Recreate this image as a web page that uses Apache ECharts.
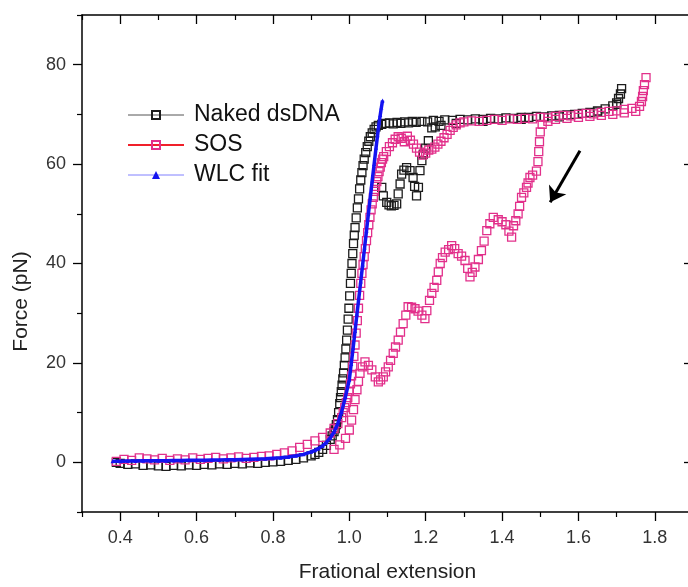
<!DOCTYPE html>
<html>
<head>
<meta charset="utf-8">
<script src="https://cdn.jsdelivr.net/npm/echarts@6/dist/echarts.min.js"></script>
<style>
  html, body { margin: 0; padding: 0; background: #fff; }
  #chart { width: 688px; height: 587px; }
</style>
</head>
<body>
<div id="chart"></div>
<script>
// Axis ticks
const xMajorTicks = [0.4, 0.6, 0.8, 1.0, 1.2, 1.4, 1.6, 1.8];
const xMinorTicks = [0.3, 0.5, 0.7, 0.9, 1.1, 1.3, 1.5, 1.7, 1.9];
const yMajorTicks = [0, 20, 40, 60, 80];
const yMinorTicks = [-10, 10, 30, 50, 70, 90];

// Naked dsDNA: stretching then relaxing, [extension, force pN]
const nakedStretch = [
  [0.39, 0.0], [0.40, -0.2], [0.42, -0.4], [0.44, -0.3], [0.46, -0.6], [0.48, -0.5],
  [0.50, -0.7], [0.52, -0.8], [0.54, -0.6], [0.56, -0.7], [0.58, -0.5], [0.60, -0.6],
  [0.62, -0.4], [0.64, -0.5], [0.66, -0.3], [0.68, -0.4], [0.70, -0.2], [0.72, -0.3],
  [0.74, -0.1], [0.76, -0.2], [0.78, 0.0], [0.80, 0.1], [0.82, 0.2], [0.84, 0.4],
  [0.86, 0.6], [0.88, 0.9], [0.90, 1.3], [0.91, 1.6], [0.92, 2.0], [0.93, 2.6],
  [0.94, 3.4], [0.95, 4.6], [0.955, 5.3], [0.96, 6.2], [0.963, 6.8], [0.966, 7.6],
  [0.969, 8.6], [0.972, 10.0], [0.975, 11.8], [0.977, 13.0], [0.979, 14.2], [0.981, 15.5],
  [0.983, 16.8], [0.985, 18.0], [0.987, 19.5], [0.989, 21.0], [0.991, 22.8], [0.993, 24.6],
  [0.995, 26.6], [0.997, 28.8], [0.999, 31.0], [1.001, 33.5], [1.003, 36.0], [1.005, 38.0],
  [1.007, 40.0], [1.009, 42.0], [1.011, 44.0], [1.013, 45.7], [1.015, 47.2], [1.018, 49.2],
  [1.021, 51.2], [1.024, 53.0], [1.027, 55.0], [1.03, 56.8], [1.033, 58.3], [1.036, 59.7],
  [1.039, 61.0], [1.043, 62.3], [1.047, 63.5], [1.051, 64.6], [1.055, 65.5], [1.06, 66.3],
  [1.065, 67.0], [1.07, 67.5], [1.076, 67.8],
  [1.085, 68.0], [1.095, 68.2], [1.105, 68.3], [1.115, 68.1], [1.125, 68.4], [1.135, 68.2],
  [1.145, 68.5], [1.155, 68.3], [1.165, 68.6], [1.175, 68.4], [1.19, 68.6], [1.205, 68.5],
  [1.22, 68.8], [1.235, 68.6], [1.25, 68.9], [1.27, 68.8], [1.29, 69.0], [1.31, 68.9],
  [1.33, 69.1], [1.35, 69.0], [1.37, 69.2], [1.39, 69.1], [1.41, 69.3], [1.43, 69.2],
  [1.45, 69.4], [1.47, 69.4], [1.49, 69.6], [1.51, 69.5], [1.53, 69.7], [1.55, 69.8],
  [1.57, 69.9], [1.59, 70.0], [1.61, 70.2], [1.63, 70.4], [1.65, 70.7], [1.67, 71.1],
  [1.69, 71.7], [1.70, 72.3], [1.705, 73.2], [1.71, 74.1], [1.713, 75.2]
];
const nakedRelax = [
  [1.70, 72.0], [1.65, 70.5], [1.55, 69.5], [1.45, 69.0], [1.35, 68.6], [1.28, 68.2],
  [1.24, 67.8], [1.225, 67.5], [1.216, 67.3], [1.207, 64.7], [1.20, 63.2], [1.194, 62.0],
  [1.19, 60.7], [1.185, 58.7], [1.181, 55.3], [1.176, 53.6], [1.171, 55.5], [1.167, 57.3],
  [1.159, 58.7], [1.15, 59.3], [1.143, 58.8], [1.137, 58.0], [1.133, 56.0], [1.128, 54.0],
  [1.124, 52.0], [1.117, 51.7], [1.11, 51.6], [1.104, 51.8], [1.098, 52.3], [1.089, 53.6],
  [1.085, 55.3]
];

// SOS-bound DNA: stretching then relaxing
const sosStretch = [
  [0.39, 0.2], [0.41, 0.6], [0.43, 0.4], [0.45, 0.9], [0.47, 0.7], [0.49, 0.5],
  [0.51, 0.8], [0.53, 0.4], [0.55, 0.7], [0.57, 0.5], [0.59, 0.9], [0.61, 0.6],
  [0.63, 0.8], [0.65, 1.0], [0.67, 0.7], [0.69, 0.9], [0.71, 1.1], [0.73, 0.8],
  [0.75, 1.0], [0.77, 1.2], [0.79, 1.3], [0.81, 1.6], [0.83, 1.9], [0.85, 2.3],
  [0.87, 3.0], [0.89, 3.6], [0.91, 4.3], [0.93, 5.0], [0.95, 5.9], [0.96, 6.8],
  [0.97, 7.8], [0.98, 9.0], [0.984, 10.0], [0.988, 11.0], [0.992, 12.0], [0.996, 13.0],
  [1.0, 14.3], [1.003, 15.8], [1.006, 17.4], [1.009, 19.3], [1.012, 21.3], [1.015, 23.6],
  [1.018, 26.0], [1.021, 28.5], [1.024, 31.0], [1.027, 33.6], [1.03, 36.0], [1.033, 38.0],
  [1.036, 39.8], [1.039, 41.4], [1.042, 43.0], [1.045, 44.6], [1.048, 46.2], [1.051, 47.8],
  [1.054, 49.3], [1.057, 50.8], [1.06, 52.0], [1.063, 53.3], [1.066, 54.5], [1.069, 55.5],
  [1.072, 56.5], [1.075, 57.5], [1.078, 58.5], [1.081, 59.4], [1.084, 60.3], [1.087, 61.0],
  [1.09, 61.5], [1.097, 62.5], [1.105, 63.5], [1.113, 64.3], [1.12, 65.0], [1.128, 65.5],
  [1.136, 65.2], [1.144, 64.5], [1.152, 65.6], [1.16, 64.8], [1.168, 64.0], [1.176, 63.2],
  [1.184, 62.4], [1.192, 61.8], [1.20, 62.2], [1.208, 62.8], [1.216, 63.0], [1.224, 63.4],
  [1.232, 64.0], [1.24, 64.6], [1.248, 65.3], [1.256, 66.0], [1.264, 66.8], [1.272, 67.4],
  [1.28, 67.9], [1.29, 68.3], [1.30, 68.5], [1.32, 68.7], [1.34, 68.6], [1.36, 68.8],
  [1.38, 69.0], [1.40, 68.8], [1.42, 69.1], [1.44, 69.0], [1.46, 69.2], [1.48, 69.1],
  [1.50, 69.4], [1.52, 69.3], [1.54, 69.6], [1.56, 69.8], [1.58, 69.7], [1.60, 70.0],
  [1.62, 70.2], [1.64, 70.1], [1.66, 70.4], [1.68, 70.6], [1.70, 70.7], [1.72, 71.0],
  [1.74, 71.2], [1.76, 71.6], [1.765, 72.6], [1.768, 73.6], [1.77, 74.8], [1.773, 76.0],
  [1.777, 77.4]
];
const sosRelax = [
  [1.75, 70.6], [1.72, 70.3], [1.69, 70.0], [1.66, 69.8], [1.63, 69.6], [1.60, 69.4],
  [1.57, 69.2], [1.54, 69.0], [1.52, 68.6], [1.505, 68.0], [1.50, 66.5], [1.498, 64.5],
  [1.496, 62.5], [1.494, 60.5], [1.49, 58.6], [1.48, 57.8], [1.473, 57.3], [1.468, 56.2],
  [1.464, 55.3], [1.457, 54.2], [1.451, 53.3], [1.446, 51.5], [1.442, 50.0], [1.436, 48.6],
  [1.43, 47.6], [1.425, 45.3], [1.418, 46.5], [1.41, 47.8], [1.40, 48.4], [1.39, 48.8],
  [1.377, 49.3], [1.368, 48.0], [1.36, 46.6], [1.353, 44.5], [1.346, 42.6], [1.338, 40.8],
  [1.329, 39.3], [1.322, 38.2], [1.316, 37.3], [1.31, 39.0], [1.303, 40.6], [1.294, 41.5],
  [1.285, 42.0], [1.276, 43.0], [1.268, 43.6], [1.26, 42.8], [1.251, 42.3], [1.244, 41.2],
  [1.238, 40.0], [1.233, 38.3], [1.229, 36.6], [1.222, 35.2], [1.216, 34.0], [1.21, 32.6],
  [1.203, 30.5], [1.198, 28.9], [1.19, 29.6], [1.18, 30.4], [1.172, 30.9], [1.163, 31.2],
  [1.154, 31.3], [1.148, 29.6], [1.141, 27.9], [1.134, 26.2], [1.128, 24.6], [1.121, 23.2],
  [1.115, 21.9], [1.108, 20.5], [1.102, 19.2], [1.095, 18.2], [1.089, 17.2], [1.082, 16.6],
  [1.076, 16.2], [1.068, 17.2], [1.059, 18.6], [1.05, 19.5], [1.041, 20.2], [1.034, 19.2],
  [1.028, 17.9], [1.024, 16.3], [1.02, 14.6], [1.015, 12.6], [1.011, 10.6], [1.006, 8.5],
  [1.0, 6.5], [0.99, 4.8], [0.975, 3.5], [0.96, 2.6]
];

// Worm-like-chain fit
const wlcFit = [
  [0.38, 0.2], [0.40, 0.2], [0.42, 0.25], [0.44, 0.25], [0.46, 0.3], [0.48, 0.3],
  [0.50, 0.3], [0.52, 0.3], [0.54, 0.35], [0.56, 0.35], [0.58, 0.4], [0.60, 0.4],
  [0.62, 0.4], [0.64, 0.45], [0.66, 0.45], [0.68, 0.5], [0.70, 0.5], [0.72, 0.55],
  [0.74, 0.6], [0.76, 0.65], [0.78, 0.7], [0.80, 0.8], [0.82, 0.9], [0.84, 1.05],
  [0.86, 1.3], [0.88, 1.6], [0.90, 2.1], [0.91, 2.4], [0.92, 2.8], [0.93, 3.3],
  [0.94, 4.0], [0.95, 4.9], [0.96, 6.1], [0.97, 7.8], [0.98, 10.2], [0.99, 13.2],
  [1.0, 16.6], [1.005, 19.8], [1.01, 23.0], [1.015, 26.4], [1.02, 29.8], [1.025, 33.1],
  [1.03, 36.4], [1.035, 39.8], [1.04, 43.2], [1.045, 46.6], [1.05, 50.0], [1.055, 53.3],
  [1.06, 56.7], [1.065, 60.0], [1.07, 63.3], [1.074, 65.8], [1.078, 68.3], [1.081, 69.9],
  [1.084, 71.4], [1.087, 72.8]
];

// Direction of the relaxing trace: arrow from tail to head, in data units
const arrowTail = [1.604, 62.7];
const arrowHead = [1.526, 52.3];

const BLACK = '#1c1c1c';
const PINK = '#e2308b';
const BLUE = '#1414f0';

const axisColor = '#000';
const labelStyle = { fontFamily: 'Liberation Sans, Arial, sans-serif', fontSize: 18, color: '#333' };

function xAxisPair(position, inside) {
  const base = { type: 'value', min: 0.3, max: 1.9, interval: 0.1, splitLine: { show: false } };
  return [
    Object.assign({}, base, {
      position,
      axisLine: { show: true, onZero: false, lineStyle: { color: axisColor, width: 1.5 } },
      axisTick: { show: true, inside, length: 9, customValues: xMajorTicks, lineStyle: { color: axisColor, width: 1.3 } },
      axisLabel: position === 'bottom'
        ? Object.assign({ show: true, margin: 17, customValues: xMajorTicks, formatter: v => Number(v).toFixed(1) }, labelStyle)
        : { show: false }
    }),
    Object.assign({}, base, {
      position,
      axisLine: { show: false, onZero: false },
      axisTick: { show: true, inside, length: 5, customValues: xMinorTicks, lineStyle: { color: axisColor, width: 1.2 } },
      axisLabel: { show: false }
    })
  ];
}
function yAxisPair(position, inside) {
  const base = { type: 'value', min: -10, max: 90, interval: 10, splitLine: { show: false } };
  return [
    Object.assign({}, base, {
      position,
      axisLine: { show: true, onZero: false, lineStyle: { color: axisColor, width: 1.5 } },
      axisTick: { show: true, inside, length: 9, customValues: yMajorTicks, lineStyle: { color: axisColor, width: 1.3 } },
      axisLabel: position === 'left'
        ? Object.assign({ show: true, margin: 16, customValues: yMajorTicks }, labelStyle)
        : { show: false }
    }),
    Object.assign({}, base, {
      position,
      axisLine: { show: false, onZero: false },
      axisTick: { show: true, inside, length: 5, customValues: yMinorTicks, lineStyle: { color: axisColor, width: 1.2 } },
      axisLabel: { show: false }
    })
  ];
}

const xAxes = xAxisPair('bottom', false).concat(xAxisPair('top', true));
xAxes[0].name = 'Frational extension';
xAxes[0].nameLocation = 'middle';
xAxes[0].nameGap = 50;
xAxes[0].nameTextStyle = { fontFamily: 'Liberation Sans, Arial, sans-serif', fontSize: 21, color: '#222' };

const yAxes = yAxisPair('left', false).concat(yAxisPair('right', true));
yAxes[0].name = 'Force (pN)';
yAxes[0].nameLocation = 'middle';
yAxes[0].nameGap = 50;
yAxes[0].nameTextStyle = { fontFamily: 'Liberation Sans, Arial, sans-serif', fontSize: 21, color: '#222', padding: [0, 76, 0, 0] };

const chart = echarts.init(document.getElementById('chart'), null, { renderer: 'canvas' });
chart.setOption({
  animation: false,
  backgroundColor: '#fff',
  grid: { left: 82, top: 15, width: 611, height: 497, containLabel: false, outerBoundsMode: 'none' },
  xAxis: xAxes,
  yAxis: yAxes,
  legend: {
    orient: 'vertical',
    left: 127,
    top: 103,
    padding: 0,
    itemWidth: 56,
    itemHeight: 10,
    itemGap: 6,
    selectedMode: false,
    textStyle: { fontFamily: 'Liberation Sans, Arial, sans-serif', fontSize: 23, color: '#111', lineHeight: 24, padding: [0, 0, 0, 5] },
    data: [
      { name: 'Naked dsDNA', lineStyle: { color: '#555', width: 1, opacity: 1 } },
      { name: 'SOS', lineStyle: { color: '#f0202a', width: 2, opacity: 1 } },
      { name: 'WLC fit', lineStyle: { color: '#8080ff', width: 1, opacity: 1 } }
    ]
  },
  series: [
    {
      name: 'Naked dsDNA',
      type: 'line',
      data: nakedStretch.concat(nakedRelax),
      symbol: 'rect',
      symbolSize: 8,
      showSymbol: true,
      showAllSymbol: true,
      lineStyle: { opacity: 0 },
      itemStyle: { color: 'rgba(255,255,255,0)', borderColor: BLACK, borderWidth: 1.3 },
      z: 2,
      markLine: {
        silent: true,
        symbol: ['none', 'arrow'],
        symbolSize: 15,
        label: { show: false },
        lineStyle: { color: '#000', width: 3, type: 'solid' },
        data: [[{ coord: arrowTail }, { coord: arrowHead }]]
      }
    },
    {
      name: 'SOS',
      type: 'line',
      data: sosStretch.concat(sosRelax),
      symbol: 'rect',
      symbolSize: 8,
      showSymbol: true,
      showAllSymbol: true,
      lineStyle: { opacity: 0 },
      itemStyle: { color: 'rgba(255,255,255,0)', borderColor: PINK, borderWidth: 1.3 },
      z: 3
    },
    {
      name: 'WLC fit',
      type: 'line',
      data: wlcFit,
      symbol: 'triangle',
      symbolSize: 4,
      showSymbol: true,
      showAllSymbol: true,
      lineStyle: { color: BLUE, width: 3.5 },
      itemStyle: { color: BLUE },
      z: 4
    }
  ]
});
</script>
</body>
</html>
